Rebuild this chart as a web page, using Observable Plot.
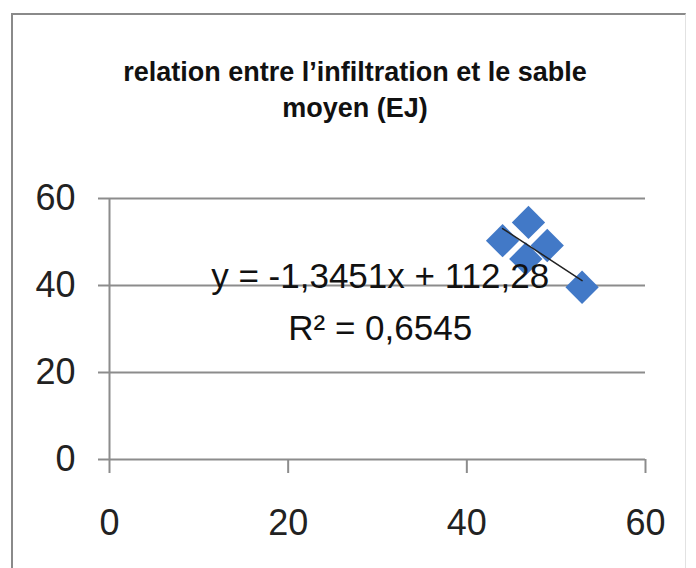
<!DOCTYPE html>
<html><head><meta charset="utf-8">
<script src="https://cdn.jsdelivr.net/npm/d3@7"></script>
<script src="https://cdn.jsdelivr.net/npm/@observablehq/plot@0.6"></script>
<style>
body{margin:0;background:#fff;}
#wrap{position:relative;width:696px;height:568px;overflow:hidden;background:#fff;}
#frame{position:absolute;left:11px;top:13px;width:672px;height:600px;border-left:2px solid #8a8a8a;border-top:2px solid #8a8a8a;border-right:1px solid #e2e2e2;}
#title{position:absolute;left:0;width:710px;top:54px;text-align:center;font:bold 27px "Liberation Sans",Arial,sans-serif;line-height:36px;color:#111;}
#chart{position:absolute;left:0;top:0;}
</style></head><body>
<div id="wrap"><div id="frame"></div><div id="title">relation entre l’infiltration et le sable<br>moyen (EJ)</div><div id="chart"></div></div>
<script>
// data
const sand = [44.0, 46.9, 49.0, 52.9, 46.6];
const infiltration = [50.3, 54.5, 49.2, 39.6, 46.1];
const xTicks = [0, 20, 40, 60];
const yTicks = [0, 20, 40, 60];
const slope = -1.3451, intercept = 112.28;
const equationLines = ["y = -1,3451x + 112,28", "R² = 0,6545"];

const points = sand.map((x, i) => ({x, y: infiltration[i]}));
const trend = d3.extent(sand).map(x => ({x, y: slope * x + intercept}));
const axisColor = "#8c8c8c";
const font = "'Liberation Sans', Arial, sans-serif";

const plot = Plot.plot({
  width: 696, height: 568,
  marginLeft: 109, marginRight: 51, marginTop: 198, marginBottom: 109,
  style: {background: "transparent", fontFamily: font, overflow: "visible"},
  x: {domain: [0, 60]},
  y: {domain: [0, 60]},
  marks: [
    Plot.gridY(yTicks, {stroke: axisColor, strokeOpacity: 1, strokeWidth: 2}),
    Plot.ruleX([0], {stroke: axisColor, strokeWidth: 2}),
    Plot.axisY(yTicks, {tickSize: 11, tickPadding: 23, stroke: axisColor, strokeWidth: 2, strokeOpacity: 1, fontSize: 36, fill: "#222", label: null}),
    Plot.axisX(xTicks, {tickSize: 14, tickPadding: 36, stroke: axisColor, strokeWidth: 2, strokeOpacity: 1, fontSize: 36, fill: "#222", label: null}),
    Plot.dot(points, {x: "x", y: "y", symbol: "diamond2", r: 15, fill: "#4279c7"}),
    Plot.line(trend, {x: "x", y: "y", stroke: "#222", strokeWidth: 1.5}),
    Plot.text([equationLines.join("\n")], {x: 30.3, y: 48.0, text: d => d, lineAnchor: "top", fontSize: 35, lineHeight: 1.5, fill: "#111", fontFamily: font})
  ]
});
document.getElementById("chart").appendChild(plot);
</script>
</body></html>
